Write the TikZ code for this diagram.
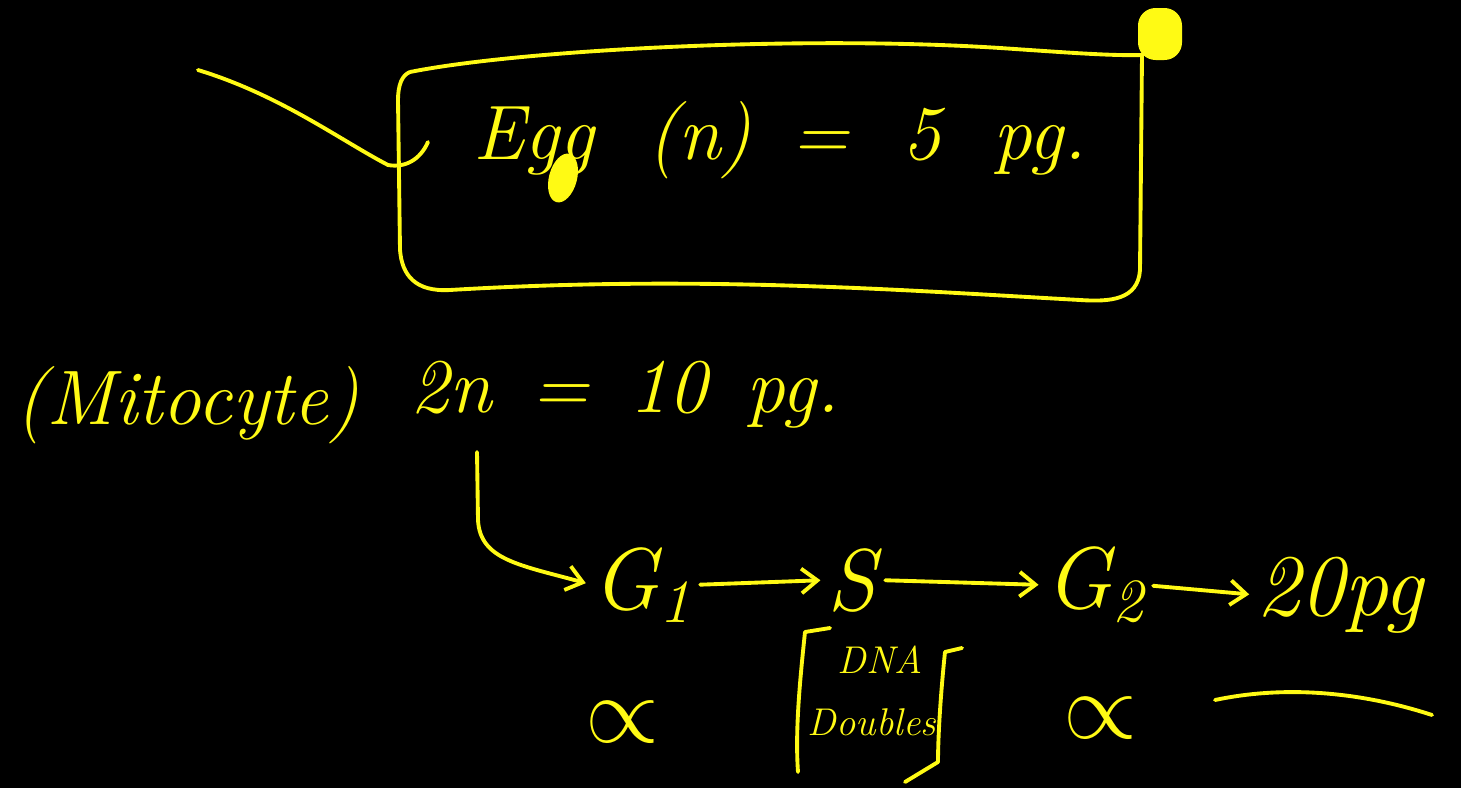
\RequirePackage{fix-cm}
\documentclass[tikz,border=0pt]{standalone}
\usetikzlibrary{arrows.meta}
\definecolor{ink}{RGB}{255,250,20}
\begin{document}
\begin{tikzpicture}[x=0.02cm,y=-0.02cm,
  pen/.style={draw=ink, line width=2.2pt, line cap=round, line join=round},
  txt/.style={text=ink, inner sep=0pt, font=\fontsize{44}{48}\selectfont\itshape},
  big/.style={text=ink, inner sep=0pt, font=\fontsize{50}{54}\selectfont\itshape},
  small/.style={text=ink, inner sep=0pt, font=\fontsize{22}{24}\selectfont\itshape},
  prop/.style={text=ink, inner sep=0pt, font=\fontsize{54}{58}\selectfont},
  arr/.style={pen, shorten <=5pt, shorten >=4pt, -{Straight Barb[length=9pt,width=14pt,line width=2.2pt]}}]
\fill[black] (0,0) rectangle (1461,788);
\useasboundingbox (0,0) rectangle (1461,788);

% box around egg text
\draw[pen] (410,72) .. controls (520,50) and (800,35) .. (1000,48)
  .. controls (1060,52) and (1110,56) .. (1142,55)
  -- (1140,270) .. controls (1138,300) and (1110,302) .. (1080,300)
  .. controls (900,290) and (700,275) .. (450,290)
  .. controls (415,292) and (402,275) .. (400,250)
  -- (398,100) .. controls (398,85) and (402,75) .. (410,72);
% marker blob
\fill[ink, rounded corners=10pt] (1138,8) rectangle (1182,60);
% left lead line
\coordinate (lead) at (198,70);
\coordinate (hook) at (388,165);
\draw[pen] (lead) .. controls (280,95) and (340,140) .. (hook)
  .. controls (405,168) and (420,160) .. (428,142);

\node[txt] (egg) at (780,140) {Egg\,\, (n)\, =\,\, 5\,\, pg.};
\fill[ink, rotate around={-15:(563,178)}] (563,178) ellipse (14 and 25);

% mitocyte line
\node[txt, anchor=west] (mito) at (15,405) {(Mitocyte)};
\node[txt, anchor=west] (twon) at (410,395) {2n\, =\, 10\, pg.};
\coordinate (start) at (477,452);

% cycle
\node[big] (g1) at (642,585) {G\textsubscript{1}};
\node[big] (s) at (852,580) {S};
\node[big] (g2) at (1095,585) {G\textsubscript{2}};
\node[big] (pg20) at (1340,595) {20pg};

\draw[pen, -{Straight Barb[length=9pt,width=14pt,line width=2.2pt]}, shorten >=4pt]
  (start) -- (478,520) .. controls (480,560) and (520,565) .. (g1.west);
\draw[arr] (g1.east) -- (s.west);
\draw[arr] (s.east) -- (g2.west);
\draw[arr] (g2.east) -- (pg20.west);

\node[prop] (a1) at (622,722) {$\propto$};
\node[prop] (a2) at (1100,718) {$\propto$};

\node[small] (dna) at (880,660) {DNA};
\node[small] (dbl) at (872,722) {Doubles};
\draw[pen] (830,628) -- (805,632) .. controls (800,680) and (795,730) .. (798,772);
\draw[pen] (962,648) -- (945,652) .. controls (940,700) and (938,740) .. (938,762) -- (905,782);

\draw[pen] (1215,700) .. controls (1300,682) and (1380,698) .. (1432,715);
\end{tikzpicture}
\end{document}
